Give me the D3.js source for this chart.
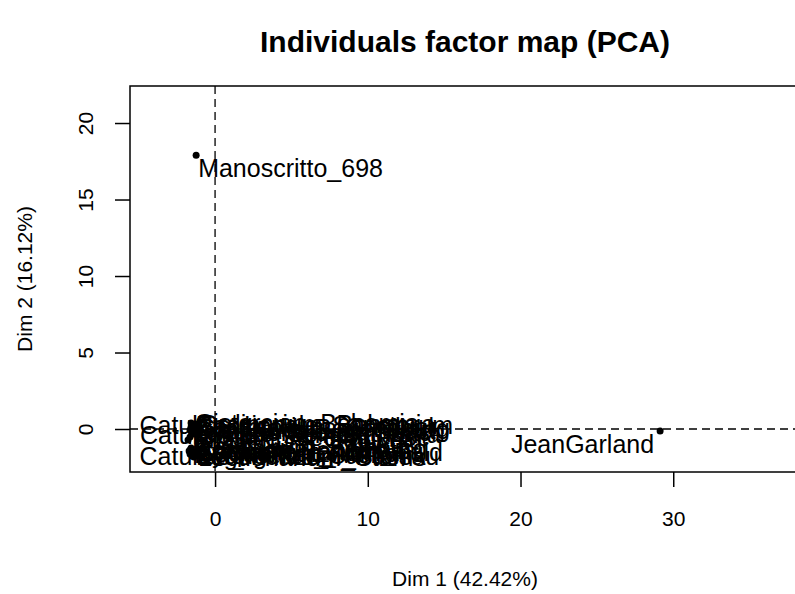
<!DOCTYPE html>
<html><head><meta charset="utf-8">
<script src="https://cdn.jsdelivr.net/npm/d3@7"></script>
<style>
body{margin:0;background:#fff}
svg{display:block;background:#fff}
text{font-family:"Liberation Sans",Arial,sans-serif;fill:#000}
</style>
</head><body>
<svg id="chart" width="795" height="594"></svg>
<script>
// ---- data ----
const names = [
  "Manoscritto_698", "JeanGarland",
  "Catullus_I", "Catullus_II", "Catullus_III",
  "Cistercian_Bohemia", "Passionale_Sanctorum", "Graduale_Regensburg",
  "Clm_Augsburg_Quarto", "Antiphonale_Lambach", "Codex_Admont_Varia",
  "Missale_Seckauense", "Psalterium_Gottweig", "Breviarium_Salzburg",
  "Sacramentarium_Fuld", "Hymnarium_Melk", "Evangeliar_Castorii",
  "Lectionarium_Stams", "Graduale_Innichen", "Ordinarium_Bohemia",
  "Cantatorium_Gradual", "Kyriale_Seligenthal", "Sequentiar_Admont",
  "Legendarium_Passau", "Homiliar_Benediktb"
];
const dim1 = [
  -1.24, 29.14,
  -1.31, -1.05, -0.85,
  -1.57, -1.51, -1.44,
  -1.64, -1.51, -1.38,
  -1.64, -1.77, -1.57,
  -1.44, -1.64, -1.51,
  -1.38, -1.70, -1.31,
  -1.57, -1.44, -1.38,
  -1.51, -1.64
];
const dim2 = [
  17.90, -0.13,
  0.26, -0.39, -1.76,
  0.39, 0.26, 0.07,
  -0.07, -0.20, -0.33,
  -0.52, -0.72, -1.24,
  -1.50, -1.63, -1.70,
  -1.83, -1.44, 0.33,
  0.13, -0.26, -1.57,
  -1.76, -1.37
];
const xTicks = [0, 10, 20, 30];
const yTicks = [0, 5, 10, 15, 20];
const xDomain = [-5.57, 38.3];
const yDomain = [-2.81, 22.42];
const titleText = "Individuals factor map (PCA)";
const xLabel = "Dim 1 (42.42%)";
const yLabel = "Dim 2 (16.12%)";

// ---- layout ----
const svg = d3.select("#chart");
const L = 130, R = 800, T = 86, B = 472;
const x = d3.scaleLinear().domain(xDomain).range([L, R]);
const y = d3.scaleLinear().domain(yDomain).range([B, T]);
const FONT = '"Liberation Sans",Arial,sans-serif';

svg.append("rect").attr("width", 795).attr("height", 594).attr("fill", "#fff");

// reference lines
svg.append("line").attr("x1", L).attr("x2", R).attr("y1", y(0)).attr("y2", y(0))
  .attr("stroke", "#000").attr("stroke-width", 1.3).attr("stroke-dasharray", "8,5");
svg.append("line").attr("x1", x(0)).attr("x2", x(0)).attr("y1", T).attr("y2", B)
  .attr("stroke", "#000").attr("stroke-width", 1.3).attr("stroke-dasharray", "8,5");

// axes
const xAxis = d3.axisBottom(x).tickValues(xTicks).tickSize(15).tickPadding(24).tickFormat(d3.format("d"));
const gx = svg.append("g").attr("transform", `translate(0,${B})`).call(xAxis);
gx.select(".domain").remove();
gx.selectAll("line").attr("stroke", "#000").attr("stroke-width", 1.5);
gx.selectAll("text").attr("font-size", 21).attr("font-family", FONT).attr("fill", "#000");

const yAxis = d3.axisLeft(y).tickValues(yTicks).tickSize(15).tickPadding(10).tickFormat(d3.format("d"));
const gy = svg.append("g").attr("transform", `translate(${L},0)`).call(yAxis);
gy.select(".domain").remove();
gy.selectAll("line").attr("stroke", "#000").attr("stroke-width", 1.5);
gy.selectAll("text")
  .attr("font-size", 21).attr("font-family", FONT).attr("fill", "#000")
  .attr("x", null).attr("dy", null)
  .attr("text-anchor", "middle")
  .attr("transform", "translate(-45,0) rotate(-90)")
  .attr("y", 0).attr("dominant-baseline", "central");

// box
svg.append("rect").attr("x", L).attr("y", T).attr("width", R - L).attr("height", B - T)
  .attr("fill", "none").attr("stroke", "#000").attr("stroke-width", 1.5);

// points
const data = names.map((n, i) => ({name: n, d1: dim1[i], d2: dim2[i]}));
svg.append("g").selectAll("circle").data(data).join("circle")
  .attr("cx", d => x(d.d1)).attr("cy", d => y(d.d2)).attr("r", 3.5).attr("fill", "#000");

// labels
function place(d) {
  if (d.d1 > 10) return {anchor: "end", dx: -6, dy: 22};
  if (d.d2 > 5) return {anchor: "start", dx: 2, dy: 22};
  if (d.name.startsWith("Catullus")) return {anchor: "middle", dx: 0, dy: 9};
  return {anchor: "start", dx: 4, dy: 9};
}
svg.append("g").selectAll("text").data(data).join("text")
  .attr("x", d => x(d.d1) + place(d).dx)
  .attr("y", d => y(d.d2) + place(d).dy)
  .attr("text-anchor", d => place(d).anchor)
  .attr("font-size", 25)
  .text(d => d.name);

// titles
svg.append("text").attr("x", (L + R) / 2).attr("y", 52).attr("text-anchor", "middle")
  .attr("font-size", 30).attr("font-weight", "bold").text(titleText);
svg.append("text").attr("x", (L + R) / 2).attr("y", 586).attr("text-anchor", "middle")
  .attr("font-size", 21).text(xLabel);
svg.append("text").attr("transform", `translate(32,${(T + B) / 2}) rotate(-90)`)
  .attr("text-anchor", "middle").attr("font-size", 21).text(yLabel);
</script>
</body></html>
